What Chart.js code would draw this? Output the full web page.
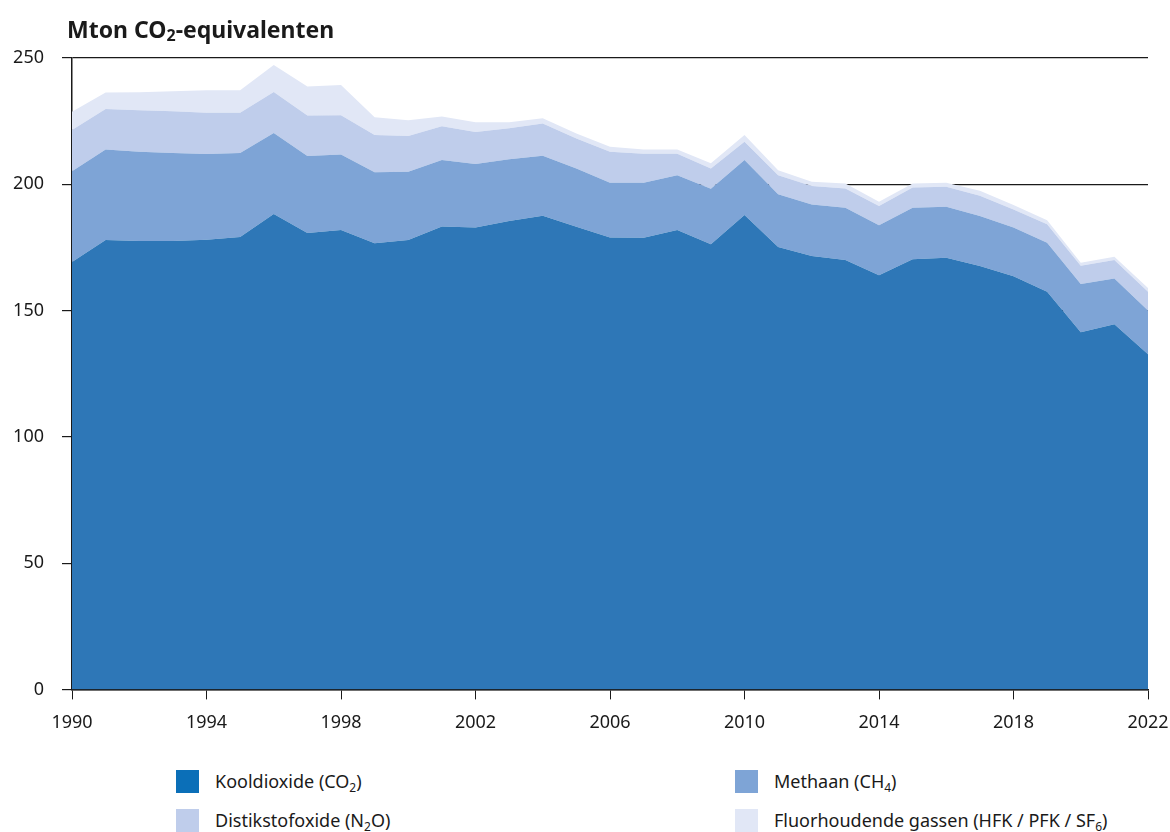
<!DOCTYPE html>
<html>
<head>
<meta charset="utf-8">
<script src="https://cdn.jsdelivr.net/npm/chart.js@4/dist/chart.umd.min.js"></script>
<style>
  body { margin: 0; background: #fff; font-family: "Noto Sans", sans-serif; color: #1a1a1a; }
  #wrap { position: relative; width: 1170px; height: 832px; overflow: hidden; }
  #title { position: absolute; left: 67px; top: 13px; font-size: 23px; font-weight: bold; }
  #title sub { font-size: 16px; vertical-align: -3px; line-height: 0; }
  #chart { position: absolute; left: 0; top: 0; }
  .leg { position: absolute; font-size: 18px; display: flex; align-items: center; white-space: nowrap; }
  .leg span.sq { display: inline-block; width: 23px; height: 23px; margin-right: 16px; }
  .leg sub { font-size: 12px; vertical-align: -4px; line-height: 0; }
</style>
</head>
<body>
<div id="wrap">
  <canvas id="chart" width="1170" height="747"></canvas>
  <div id="title">Mton CO<sub>2</sub>-equivalenten</div>
  <div class="leg" style="left:176px; top:769px"><span class="sq" style="background:#0b6fb8"></span><span>Kooldioxide (CO<sub>2</sub>)</span></div>
  <div class="leg" style="left:735px; top:769px"><span class="sq" style="background:#7ea4d6"></span><span>Methaan (CH<sub>4</sub>)</span></div>
  <div class="leg" style="left:176px; top:808px"><span class="sq" style="background:#bfcdeb"></span><span>Distikstofoxide (N<sub>2</sub>O)</span></div>
  <div class="leg" style="left:735px; top:808px"><span class="sq" style="background:#e1e7f6"></span><span>Fluorhoudende gassen (HFK / PFK / SF<sub>6</sub>)</span></div>
</div>
<script>
// jaren en emissies per gas (Mton CO2-eq)
const years = [1990, 1991, 1992, 1993, 1994, 1995, 1996, 1997, 1998, 1999, 2000,
  2001, 2002, 2003, 2004, 2005, 2006, 2007, 2008, 2009, 2010,
  2011, 2012, 2013, 2014, 2015, 2016, 2017, 2018, 2019, 2020, 2021, 2022];

const co2 = [169.2, 177.9, 177.5, 177.5, 178.0, 179.1, 188.2, 180.7, 181.9, 176.7, 177.9,
  183.3, 182.9, 185.5, 187.5, 183.2, 178.9, 178.8, 181.9, 176.3, 187.8,
  175.2, 171.6, 170.0, 164.0, 170.3, 170.9, 167.6, 163.6, 157.4, 141.4, 144.6, 132.7];

const ch4 = [36.0, 35.9, 35.4, 34.9, 34.0, 33.3, 32.1, 30.5, 29.9, 28.1, 27.1,
  26.3, 25.1, 24.4, 23.8, 23.0, 21.7, 21.8, 21.7, 21.9, 21.8,
  20.9, 20.4, 20.7, 19.8, 20.4, 20.2, 19.8, 19.3, 19.4, 19.1, 18.1, 17.3];

const n2o = [16.3, 16.0, 16.4, 16.5, 16.3, 15.9, 16.2, 16.0, 15.5, 14.7, 14.1,
  13.4, 12.7, 12.3, 12.8, 11.9, 12.3, 11.5, 8.5, 8.0, 7.2,
  7.5, 7.3, 7.6, 7.6, 8.0, 7.9, 8.1, 7.1, 7.4, 7.2, 7.3, 7.4];

const fgas = [7.2, 6.5, 7.1, 7.9, 8.9, 8.9, 10.7, 11.5, 12.0, 7.0, 6.3,
  3.8, 3.9, 2.4, 2.0, 2.0, 2.0, 1.7, 1.7, 2.1, 2.7,
  2.0, 1.7, 2.0, 1.7, 1.6, 1.6, 1.9, 1.8, 1.6, 1.2, 1.3, 1.5];

const yTicks = [0, 50, 100, 150, 200, 250];

function area(label, data, color, fill) {
  return {
    label: label,
    data: data,
    backgroundColor: color,
    borderWidth: 0,
    pointRadius: 0,
    fill: fill,
    tension: 0
  };
}

const ctx = document.getElementById('chart').getContext('2d');
new Chart(ctx, {
  type: 'line',
  data: {
    labels: years,
    datasets: [
      area('Kooldioxide (CO₂)', co2, '#2e77b7', 'origin'),
      area('Methaan (CH₄)', ch4, '#7ea4d6', '-1'),
      area('Distikstofoxide (N₂O)', n2o, '#bfcdeb', '-1'),
      area('Fluorhoudende gassen (HFK / PFK / SF₆)', fgas, '#e1e7f6', '-1')
    ]
  },
  options: {
    responsive: false,
    animation: false,
    layout: { padding: { top: 58, right: 22, left: 0, bottom: 0 } },
    plugins: {
      legend: { display: false },
      tooltip: { enabled: false }
    },
    scales: {
      x: {
        afterFit: function(scale) { scale.paddingRight = 0; scale.paddingLeft = 0; },
        grid: { drawOnChartArea: false, color: '#1a1a1a', tickLength: 10 },
        border: { color: '#1a1a1a', width: 1.5 },
        ticks: {
          autoSkip: false,
          maxRotation: 0,
          color: '#1a1a1a',
          font: { family: 'Noto Sans', size: 18 },
          padding: 13,
          callback: function(v, i) {
            const y = years[i];
            return (y - 1990) % 4 === 0 ? String(y) : null;
          }
        }
      },
      y: {
        stacked: true,
        min: 0,
        max: 250,
        afterBuildTicks: function(scale) {
          scale.ticks = yTicks.map(v => ({ value: v }));
        },
        afterFit: function(scale) { scale.width = 72; },
        grid: { color: '#1a1a1a', lineWidth: 1.2, tickLength: 10 },
        border: { color: '#1a1a1a', width: 1.5 },
        ticks: {
          color: '#1a1a1a',
          font: { family: 'Noto Sans', size: 18 },
          padding: 18
        }
      }
    }
  }
});
</script>
</body>
</html>
